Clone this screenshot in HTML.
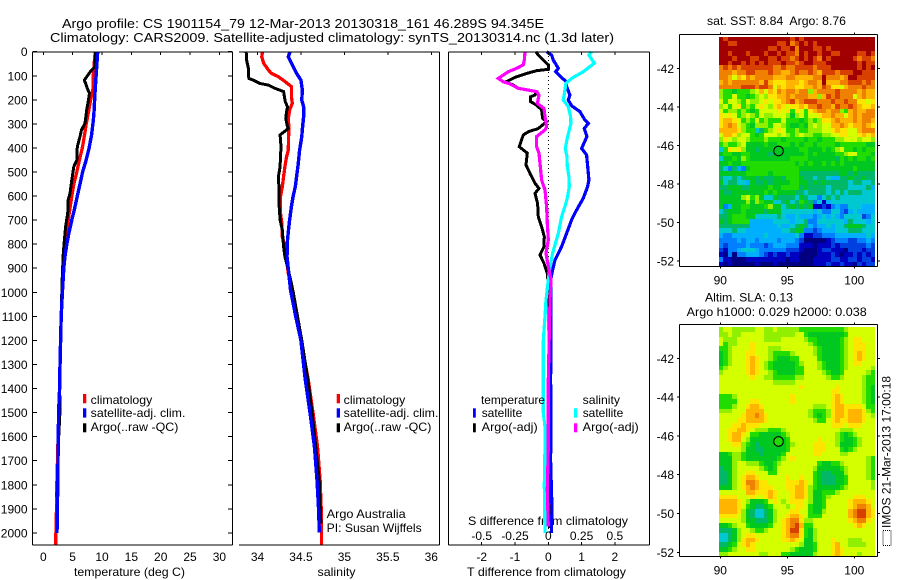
<!DOCTYPE html>
<html lang="en">
<head>
<meta charset="utf-8">
<title>Argo profile 1901154_79</title>
<style>
html,body{margin:0;padding:0;background:#fff;}
svg{display:block;font-family:"Liberation Sans",sans-serif;font-size:12px;fill:#000;}
text{fill:#000;stroke:none;white-space:pre;}
</style>
</head>
<body>
<svg id="chart" xmlns="http://www.w3.org/2000/svg" width="900" height="580" viewBox="0 0 900 580">
<rect x="0" y="0" width="900" height="580" fill="#fff"/>
<text x="62" y="28" textLength="482" lengthAdjust="spacingAndGlyphs" font-size="13">Argo profile: CS 1901154_79 12-Mar-2013 20130318_161 46.289S 94.345E</text>
<text x="50" y="42" textLength="564" lengthAdjust="spacingAndGlyphs" font-size="13">Climatology: CARS2009. Satellite-adjusted climatology: synTS_20130314.nc (1.3d later)</text>

<text x="74" y="576" textLength="111" lengthAdjust="spacingAndGlyphs">temperature (deg C)</text>
<text x="317.5" y="576" textLength="38" lengthAdjust="spacingAndGlyphs">salinity</text>
<text x="467" y="576" textLength="159" lengthAdjust="spacingAndGlyphs">T difference from climatology</text>
<text x="468" y="525" textLength="160" lengthAdjust="spacingAndGlyphs">S difference from climatology</text>

<g id="maps"></g>
<g id="plots"></g>

<g>
<rect x="83" y="394" width="3.3" height="9.3" fill="#f00"/>
<rect x="83" y="408.3" width="3.3" height="9.3" fill="#00f"/>
<rect x="83" y="423.3" width="3.3" height="9" fill="#000"/>
<text x="90.7" y="404" textLength="61.6" lengthAdjust="spacingAndGlyphs">climatology</text>
<text x="90.7" y="417" textLength="94.7" lengthAdjust="spacingAndGlyphs">satellite-adj. clim.</text>
<text x="90.7" y="431" textLength="87.7" lengthAdjust="spacingAndGlyphs">Argo(..raw -QC)</text>
</g>
<g>
<rect x="336.7" y="394" width="3.3" height="9.3" fill="#f00"/>
<rect x="336.7" y="408.3" width="3.3" height="9.3" fill="#00f"/>
<rect x="336.7" y="423.3" width="3.3" height="9" fill="#000"/>
<text x="343.7" y="404" textLength="61.6" lengthAdjust="spacingAndGlyphs">climatology</text>
<text x="343.7" y="417" textLength="94.7" lengthAdjust="spacingAndGlyphs">satellite-adj. clim.</text>
<text x="343.7" y="431" textLength="87.7" lengthAdjust="spacingAndGlyphs">Argo(..raw -QC)</text>
<text x="326.7" y="518" textLength="79" lengthAdjust="spacingAndGlyphs">Argo Australia</text>
<text x="326.7" y="532" textLength="95" lengthAdjust="spacingAndGlyphs">PI: Susan Wijffels</text>
</g>
<g>
<text x="481" y="404" textLength="64" lengthAdjust="spacingAndGlyphs">temperature</text>
<text x="582.7" y="404" textLength="37.3" lengthAdjust="spacingAndGlyphs">salinity</text>
<rect x="473" y="408.3" width="2.8" height="9.3" fill="#00f"/>
<rect x="473" y="423.3" width="2.8" height="9" fill="#000"/>
<rect x="574" y="408.3" width="3.3" height="9.3" fill="#0ff"/>
<rect x="574" y="423.3" width="3.3" height="9" fill="#f0f"/>
<text x="481.7" y="417" textLength="40.6" lengthAdjust="spacingAndGlyphs">satellite</text>
<text x="481.7" y="431" textLength="56" lengthAdjust="spacingAndGlyphs">Argo(-adj)</text>
<text x="582.7" y="417" textLength="40.6" lengthAdjust="spacingAndGlyphs">satellite</text>
<text x="582.7" y="431" textLength="56" lengthAdjust="spacingAndGlyphs">Argo(-adj)</text>
</g>

<text x="707" y="25" textLength="139" lengthAdjust="spacingAndGlyphs">sat. SST: 8.84  Argo: 8.76</text>
<text x="705" y="301.5" textLength="88" lengthAdjust="spacingAndGlyphs">Altim. SLA: 0.13</text>
<text x="686.7" y="316" textLength="180" lengthAdjust="spacingAndGlyphs">Argo h1000: 0.029 h2000: 0.038</text>

<rect x="883" y="530.5" width="8" height="15" fill="none" stroke="#000" stroke-width="1" stroke-dasharray="1 1" shape-rendering="crispEdges"/>
<text transform="translate(890.5,528) rotate(-90)" textLength="152" lengthAdjust="spacingAndGlyphs">IMOS 21-Mar-2013 17:00:18</text>
</svg>

<script>
// ---------- profile data (depth in m, temperature in deg C, salinity in psu) ----------
const tempClimDepth=[0,100,150,200,250,300,350,400,450,500,550,600,650,700,750,800,850,900,1000,1100,1200,1300,1400,1500,1600,1700,1800,1900,2000,2050];
const tempClim=[8.85,8.5,8.5,8.05,7.7,7.3,7.0,6.65,6.15,5.7,5.2,4.85,4.55,4.25,4.0,3.7,3.45,3.4,3.2,3.05,2.95,2.87,2.78,2.62,2.52,2.42,2.3,2.25,2.15,2.1];
const tempSatDepth=[0,100,170,250,290,350,400,450,500,550,600,650,700,750,800,850,900,1000,1100,1200,1300,1400,1500,1700,1800,1900,2000];
const tempSat=[9.26,9.0,8.8,8.64,8.5,8.2,7.8,7.3,6.7,6.25,5.8,5.35,4.85,4.4,4.0,3.7,3.5,3.25,3.05,2.95,2.85,2.78,2.6,2.5,2.45,2.4,2.33];
const tempArgoDepth=[0,62,83,118,152,173,200,242,298,325,353,395,450,478,533,589,616,672,727,782,838,921,1000,1100,1200,1300,1400,1500,1600,1700,1800,1850];
const tempArgo=[8.9,8.8,8.0,7.0,7.5,7.85,7.7,7.4,7.1,6.5,6.25,5.8,5.7,5.2,4.85,4.55,4.25,4.15,3.8,3.6,3.4,3.25,3.15,3.05,2.95,2.87,2.8,2.82,2.62,2.5,2.42,2.35];

const salClimDepth=[0,21,48,76,90,104,125,145,187,215,242,277,312,409,436,478,519,561,602,672,713,769,810,852,921,1000,1200,1364,1503,1641,1780,1918,2050];
const salClim=[34.056,34.05,34.07,34.125,34.16,34.24,34.32,34.39,34.39,34.4,34.37,34.355,34.36,34.355,34.335,34.315,34.3,34.285,34.265,34.265,34.28,34.285,34.315,34.33,34.355,34.41,34.5,34.585,34.64,34.69,34.72,34.735,34.735];
const salSatDepth=[0,21,48,90,118,159,201,229,270,325,353,409,464,506,561,602,644,713,783,852,921,990,1100,1200,1364,1503,1641,1780,1918,1998];
const salSat=[34.374,34.355,34.39,34.45,34.5,34.515,34.51,34.53,34.53,34.515,34.51,34.485,34.47,34.455,34.435,34.41,34.39,34.365,34.345,34.34,34.36,34.38,34.44,34.5,34.55,34.605,34.655,34.685,34.705,34.71];
const salArgoDepth=[0,35,69,111,118,132,139,152,166,187,208,229,249,277,312,319,346,395,436,478,519,554,602,644,699,741,810,852,907,963,1018,1200,1364,1503,1641,1780,1918,1960];
const salArgo=[33.87,33.875,33.895,33.9,33.95,34.03,34.125,34.2,34.3,34.31,34.32,34.345,34.335,34.325,34.345,34.355,34.26,34.27,34.265,34.26,34.24,34.245,34.245,34.25,34.26,34.285,34.3,34.315,34.355,34.39,34.42,34.51,34.58,34.63,34.67,34.71,34.725,34.73];

const diffTSatDepth=[0,14,35,69,83,108,125,145,180,201,225,249,284,298,319,353,402,429,505,533,561,609,658,699,755,810,866,907,949,1032,1200,1364,1500,1700,1900,2000];
const diffTSat=[-0.05,0.1,0.15,0.3,0.22,0.4,0.55,0.55,0.65,0.6,0.7,0.95,1.1,1.2,1.08,1.16,1.0,1.15,1.2,1.22,1.18,1.05,0.85,0.7,0.55,0.4,0.2,0.13,0.07,0.08,0.08,0.07,0.08,0.07,0.11,0.09];
const diffTArgoDepth=[0,14,35,55,73,79,90,107,125,139,152,166,180,187,208,222,242,277,291,319,333,346,395,422,471,506,547,568,589,630,686,727,769,810,845,879,921,1000,1400,1980];
const diffTArgo=[-0.37,-0.3,-0.15,0,0,-0.35,-0.65,-1.0,-1.27,-1.05,-0.9,-0.35,-0.4,-0.53,-0.53,-0.35,-0.2,-0.17,-0.05,-0.3,-0.6,-0.75,-0.87,-0.63,-0.67,-0.55,-0.4,-0.28,-0.4,-0.32,-0.3,-0.2,-0.12,-0.13,-0.25,-0.13,-0.03,0.02,0.03,0.03];
const diffSSatDepth=[0,14,48,62,83,111,132,159,201,229,270,298,353,402,436,478,519,561,602,630,686,755,838,893,949,1032,1100,1200,1364,1500,1560,1640,1800,2000];
const diffSSat=[0.325,0.305,0.345,0.3125,0.2625,0.175,0.1325,0.125,0.1125,0.15,0.1675,0.17,0.145,0.1275,0.14,0.1425,0.155,0.1575,0.145,0.1325,0.1,0.075,0.0325,0.0125,0,-0.0175,-0.025,-0.0375,-0.0375,-0.0375,-0.025,-0.025,-0.03,-0.025];
const diffSArgoDepth=[0,35,55,69,83,97,111,125,134,152,166,180,215,236,270,312,325,353,395,422,464,533,575,644,713,783,838,893,949,1032,1364,1640,1820,1973];
const diffSArgo=[-0.175,-0.18,-0.1875,-0.2375,-0.3,-0.3375,-0.375,-0.3375,-0.2875,-0.225,-0.0875,-0.07,-0.0825,-0.0325,-0.025,-0.0125,-0.025,-0.0875,-0.0875,-0.07,-0.0625,-0.05,-0.025,-0.0125,-0.0075,0,-0.0175,0,0.02,0.0125,0,0,-0.0075,0];

// ---------- tick labels ----------
const depthTicks=[0,100,200,300,400,500,600,700,800,900,1000,1100,1200,1300,1400,1500,1600,1700,1800,1900,2000];
const tempTicks=[0,5,10,15,20,25,30];
const salTicks=["34","34.5","35","35.5","36"];
const diffTTicks=[-2,-1,0,1,2];
const diffSTicks=["-0.5","-0.25","0","0.25","0.5"];
const latTicks=[-42,-44,-46,-48,-50,-52];
const lonTicks=[90,95,100];

// ---------- map data: colour level per cell, north to south, west to east ----------
const sstGrid=[
[15,14,15,15,15,15,15,15,15,15,15,15,15,15,15,15,14,15,14,15,15,15,15,15,15,15,15,15,15,15,15,15,15,15,15],
[15,15,14,14,15,15,15,15,15,15,15,15,15,14,14,15,13,14,15,14,15,14,15,15,15,15,15,15,15,15,15,15,15,15,15],
[15,15,15,15,15,15,15,15,15,15,15,14,14,15,14,14,15,13,15,15,15,14,14,15,14,15,15,15,15,15,15,15,15,15,15],
[15,15,14,15,15,15,14,15,15,15,14,15,15,14,15,14,14,13,15,14,15,15,14,15,15,14,14,15,15,15,15,14,14,15,14],
[15,15,15,14,15,15,15,14,14,15,15,14,14,15,14,14,13,14,15,14,15,14,13,15,14,15,15,15,15,15,14,13,14,14,13],
[15,15,14,15,15,14,15,14,15,14,15,14,14,14,15,14,14,13,14,15,15,14,14,14,15,15,15,15,15,15,15,14,15,14,14],
[13,14,13,14,13,14,14,14,14,14,14,14,13,13,14,13,13,14,14,14,14,13,14,14,14,15,15,15,15,15,15,14,15,14,15],
[13,13,13,12,13,13,14,14,13,13,13,14,13,13,12,12,13,14,13,13,14,13,12,14,14,14,13,14,14,14,15,15,14,14,14],
[13,13,12,10,12,11,13,12,13,13,13,13,12,12,12,13,13,12,12,12,12,13,13,15,13,13,13,12,13,15,15,14,14,14,14],
[12,13,12,13,13,13,13,13,13,12,14,12,11,11,11,12,12,12,11,12,13,13,12,15,12,12,12,13,13,14,14,14,13,14,13],
[13,13,13,13,13,14,14,14,13,14,14,13,10,12,11,12,12,11,11,12,12,13,12,14,13,11,11,10,12,13,13,13,14,13,13],
[9,8,8,7,8,8,8,9,10,12,10,12,11,13,12,13,13,12,13,13,9,12,13,13,13,13,14,13,13,13,13,12,13,12,12],
[9,8,8,10,8,8,7,8,9,10,9,11,11,12,12,13,12,13,13,13,12,12,9,12,14,13,14,13,13,13,10,12,13,12,12],
[10,8,10,10,9,8,10,9,9,10,11,10,11,11,12,13,14,12,13,14,14,14,13,13,13,14,13,13,14,13,13,11,11,10,11],
[9,10,8,10,11,8,9,8,10,11,10,9,11,12,11,10,11,11,12,11,13,13,14,13,13,12,14,13,13,14,13,12,11,11,12],
[10,8,9,9,8,9,8,7,8,10,10,10,10,11,10,11,8,11,10,8,11,12,13,13,12,13,13,9,8,12,13,12,12,13,13],
[11,10,11,10,8,9,10,9,8,10,9,9,10,10,10,9,7,9,10,8,10,10,11,12,12,13,12,12,10,12,13,12,13,13,13],
[11,12,12,11,10,8,9,8,10,8,9,8,8,8,10,8,8,8,7,8,9,8,9,11,11,12,13,12,12,12,13,12,13,13,12],
[11,12,13,12,10,9,8,7,9,9,9,8,10,10,9,8,7,7,8,7,9,10,9,10,10,12,12,13,12,11,12,12,13,12,11],
[12,12,12,12,11,9,8,8,5,6,8,9,10,11,10,8,8,9,8,8,9,9,9,10,10,11,12,11,11,10,10,12,13,13,13],
[10,12,12,11,9,10,10,8,7,8,10,10,10,9,10,9,8,9,10,9,9,8,8,9,9,10,10,11,11,10,10,11,12,11,12],
[9,11,10,9,10,10,9,8,8,8,9,8,8,8,7,8,8,8,8,7,8,8,7,8,8,8,9,9,10,10,10,9,10,10,9],
[8,9,8,8,9,10,7,7,7,7,8,7,7,8,8,8,7,8,7,8,8,7,8,8,8,8,7,8,8,8,8,8,8,7,7],
[5,8,11,10,11,9,7,7,6,7,7,7,8,7,7,7,7,7,8,8,7,7,7,8,7,8,9,10,8,8,7,8,7,8,8],
[7,8,8,7,7,8,8,7,7,7,7,6,7,7,7,7,7,7,7,8,7,8,7,7,7,7,8,8,9,10,10,8,8,8,7],
[5,7,7,8,7,9,8,7,7,7,7,7,7,7,7,7,8,8,8,8,7,7,7,7,7,7,6,8,7,8,7,8,8,7,8],
[7,7,8,7,7,8,8,8,8,8,8,8,8,8,8,8,8,7,8,7,8,7,7,8,7,8,7,8,7,7,7,7,7,7,7],
[6,5,3,6,4,3,7,8,8,8,8,8,8,8,8,8,8,8,7,7,7,7,7,7,7,7,7,7,7,7,8,7,7,7,7],
[7,7,7,7,7,7,8,8,8,8,8,7,8,8,8,8,8,8,6,6,6,6,6,6,6,6,6,7,7,6,7,6,6,6,6],
[6,5,5,6,5,6,7,7,6,7,6,6,7,7,6,8,8,8,7,6,6,5,6,6,5,4,4,6,6,7,6,6,7,6,6],
[7,5,6,6,5,5,4,7,6,6,7,6,7,7,7,7,8,8,7,7,6,7,6,7,6,6,6,6,6,5,6,6,5,5,6],
[6,6,7,7,7,6,6,7,7,7,7,8,7,7,8,8,8,8,6,7,6,6,6,6,5,6,6,6,6,5,5,5,5,6,4],
[7,6,6,7,7,7,7,7,7,7,8,7,8,7,7,7,7,6,6,5,6,6,6,6,5,6,5,6,5,6,6,6,5,5,5],
[7,7,7,7,7,9,10,8,9,7,5,5,7,6,6,6,6,5,7,6,5,5,3,5,6,5,6,5,5,5,5,5,5,5,5],
[7,7,7,7,7,7,9,7,9,8,7,7,5,5,6,7,5,6,8,7,6,3,5,1,4,5,5,5,5,5,5,5,5,5,5],
[7,3,4,7,7,8,8,7,7,7,8,9,7,7,5,6,7,6,7,6,7,1,1,2,1,3,4,3,3,5,5,5,4,4,4],
[5,6,7,7,7,8,7,7,7,7,6,7,7,7,5,5,5,5,5,5,5,4,5,3,3,5,5,3,2,4,5,4,4,4,4],
[6,6,7,8,8,8,7,7,5,5,5,5,5,6,5,4,4,5,4,4,4,3,4,5,4,5,4,3,5,5,5,5,2,3,5],
[7,6,7,8,8,8,8,4,4,4,4,4,5,5,5,5,4,5,5,6,3,3,5,5,5,5,5,5,4,6,5,5,5,4,5],
[6,6,6,6,6,6,6,4,4,4,4,4,4,5,4,4,5,6,7,6,4,3,4,4,5,4,5,5,6,7,7,7,6,5,5],
[5,5,5,6,5,5,4,4,4,4,4,4,4,4,5,5,6,7,7,3,3,2,3,4,4,4,5,5,5,6,6,6,5,5,5],
[4,3,3,4,4,4,4,4,4,4,5,4,4,4,4,4,4,5,3,1,1,2,2,3,3,3,4,4,4,4,4,4,4,5,4],
[3,3,3,3,4,3,4,4,3,4,4,4,4,3,4,4,4,3,2,0,0,0,0,0,1,2,3,3,3,2,2,3,3,4,3],
[3,2,3,3,3,3,4,3,3,3,2,3,4,4,4,3,3,3,1,1,1,0,1,1,1,2,1,2,2,2,2,2,2,3,2],
[2,1,3,3,4,5,5,5,4,3,3,3,3,3,3,2,2,2,1,0,0,0,1,2,2,1,1,1,0,2,2,2,1,2,2],
[1,0,3,0,3,3,4,4,4,3,2,1,2,1,1,2,1,1,0,0,0,0,1,1,1,2,1,0,1,1,2,1,2,1,2],
[3,1,1,0,0,0,1,1,1,1,1,1,1,1,1,0,1,1,0,0,0,1,1,1,1,2,2,1,1,2,2,1,2,2,1],
[1,0,1,0,0,0,0,0,1,0,0,0,1,0,0,0,0,0,0,0,0,1,1,1,2,1,1,2,1,1,0,2,1,2,2]
];
const slaGrid=[
[9,10,10,9,9,9,9,9,10,10,9,9,10,9,9,9,9,9,8,8,8,8,8,8,8,8,8,8,9,10,10,10,10,10,10],
[9,9,10,9,9,10,10,10,10,10,9,9,9,9,9,9,9,10,10,8,7,7,7,7,7,7,7,7,8,10,10,10,10,10,10],
[10,9,9,9,10,10,10,10,10,10,9,9,9,9,10,10,10,10,10,9,8,8,7,7,7,7,7,8,9,10,11,11,10,10,10],
[10,8,9,9,10,10,10,11,10,10,10,10,10,10,10,10,10,10,10,10,9,8,7,7,7,7,7,8,9,10,11,11,11,10,10],
[8,8,9,10,10,10,10,11,10,10,10,9,9,9,10,10,10,10,10,10,10,9,8,7,7,7,7,8,9,10,11,11,11,10,10],
[7,8,9,10,10,10,11,11,10,10,10,9,8,8,8,8,9,10,10,10,10,9,8,7,7,7,7,8,9,10,11,12,11,10,10],
[7,8,9,10,10,10,11,12,11,10,10,9,8,7,7,7,8,8,10,10,10,10,8,7,7,7,7,8,9,10,11,12,11,10,10],
[7,8,9,10,10,10,11,12,11,10,9,8,7,7,7,7,7,8,9,10,10,10,9,8,7,7,7,8,9,10,11,11,10,10,10],
[8,9,10,10,10,10,11,12,11,10,9,8,7,7,7,7,7,8,8,10,10,10,9,8,7,7,7,8,9,10,10,10,10,10,9],
[9,10,10,10,10,10,11,12,11,10,10,9,8,7,7,7,7,8,8,10,10,10,10,9,8,7,7,8,10,10,10,10,10,9,8],
[10,10,10,10,10,10,10,11,10,10,9,9,8,8,8,8,8,9,9,10,10,10,10,10,9,8,8,9,10,10,10,10,9,8,8],
[10,10,10,10,10,10,10,10,10,10,10,10,9,9,9,9,9,10,10,10,10,10,10,10,10,10,10,10,10,10,10,10,9,8,8],
[10,10,10,10,10,10,10,10,10,10,10,10,10,10,10,10,10,10,11,10,10,10,10,10,10,10,11,10,10,10,10,10,9,8,7],
[10,10,10,10,10,10,10,10,10,10,10,10,10,10,10,10,10,10,10,10,10,10,10,10,10,11,11,10,10,10,10,10,9,8,7],
[8,8,8,9,10,10,10,10,10,10,10,10,10,10,10,10,11,10,10,10,10,10,10,10,10,11,12,11,10,10,10,10,9,8,7],
[8,8,8,8,10,10,10,11,11,10,10,10,10,10,10,10,11,10,10,10,10,10,10,10,10,11,12,11,10,10,10,10,9,8,7],
[8,8,8,9,10,10,11,12,12,11,10,10,10,10,10,10,10,10,10,10,10,9,9,9,10,11,12,12,11,11,11,11,10,8,8],
[9,9,9,10,10,10,12,12,12,12,10,10,10,10,10,10,10,10,10,10,9,8,8,8,9,11,12,12,11,12,12,12,11,9,8],
[10,10,10,10,10,11,12,12,13,12,11,10,10,10,10,10,10,10,10,10,9,8,7,8,9,11,12,12,11,12,12,12,11,10,9],
[10,10,10,10,11,11,12,12,12,12,11,10,10,10,10,10,10,10,10,10,10,9,8,8,10,11,12,11,11,12,12,12,11,10,10],
[10,10,10,11,11,12,11,11,11,10,10,10,10,10,10,10,10,10,10,10,10,10,10,10,10,11,11,11,10,11,11,11,10,10,10],
[10,10,11,11,12,12,11,10,9,9,9,8,8,8,9,10,10,10,10,10,10,10,10,10,10,10,10,9,9,9,10,10,10,10,10],
[10,10,11,12,12,11,10,8,8,7,7,7,7,7,8,9,10,10,10,10,10,10,10,10,10,10,9,8,7,8,9,10,10,10,10],
[10,10,11,12,12,10,9,7,7,7,7,7,7,7,7,8,10,10,10,10,10,10,11,10,10,10,9,8,7,7,8,9,10,10,10],
[10,10,10,11,11,9,8,7,6,7,7,7,7,7,7,8,9,10,10,10,10,11,11,11,10,10,9,7,7,7,8,9,10,10,10],
[10,10,10,10,10,9,7,7,6,6,7,7,7,7,7,8,10,10,10,10,10,11,11,11,10,10,10,8,7,8,9,10,10,10,10],
[7,7,8,9,9,8,7,7,7,6,7,7,7,7,8,10,10,10,10,10,10,11,11,10,10,10,10,9,9,10,10,10,10,10,10],
[7,7,7,9,9,8,7,7,7,7,7,7,7,8,9,10,11,10,10,10,10,10,10,10,10,10,10,10,10,10,10,10,10,9,8],
[7,7,7,9,10,10,9,9,9,8,7,7,8,9,10,10,10,10,10,10,10,10,8,7,7,8,8,9,10,10,10,10,10,9,8],
[6,7,7,9,10,10,10,10,10,9,8,7,8,10,10,10,10,10,10,10,10,9,7,7,7,7,7,8,9,10,10,10,10,9,8],
[6,6,7,9,10,10,11,11,10,10,10,8,8,10,10,10,10,10,10,10,10,8,7,6,6,7,7,7,9,10,10,10,10,9,8],
[6,6,7,9,10,11,12,12,11,10,10,10,10,10,10,11,10,10,11,10,10,8,7,6,6,6,7,7,8,10,10,10,10,9,8],
[6,6,7,9,10,11,13,13,12,11,11,10,10,10,10,11,11,11,12,11,10,8,7,6,6,6,7,7,8,10,10,10,10,10,9],
[7,7,7,9,10,11,12,13,12,11,11,11,10,10,10,11,11,12,12,11,9,8,7,7,7,7,7,8,9,10,10,10,10,10,9],
[10,10,10,10,10,10,12,12,11,11,11,12,11,10,10,10,11,12,12,11,9,7,7,8,8,8,9,10,10,10,10,10,10,10,10],
[11,11,11,11,10,10,10,11,10,10,11,12,11,10,10,10,11,12,12,11,9,7,7,8,9,10,10,10,10,10,11,11,11,10,10],
[12,12,12,12,11,10,9,7,7,7,8,10,11,10,9,10,11,11,11,10,9,7,7,8,10,10,10,10,10,11,12,12,12,11,10],
[12,12,12,12,11,10,8,7,6,6,7,8,10,10,10,9,10,11,11,10,8,7,7,8,10,10,10,10,10,11,12,13,13,12,10],
[12,12,12,12,11,9,7,6,5,5,6,7,9,10,10,10,11,11,10,10,8,7,7,9,10,10,10,10,10,12,13,14,14,12,11],
[11,11,11,11,10,9,7,6,5,5,6,7,9,10,10,11,12,12,11,10,8,8,8,10,10,10,10,10,10,12,13,14,14,12,11],
[10,10,10,10,10,9,7,7,6,6,6,7,9,10,11,12,13,13,11,9,9,10,10,10,10,10,10,10,10,11,12,13,13,11,10],
[7,7,8,9,10,10,8,7,7,7,7,8,10,10,11,12,13,14,12,8,8,10,10,10,10,10,10,10,10,10,11,12,11,10,10],
[6,6,6,7,9,10,10,9,8,8,9,10,10,10,11,12,14,14,11,8,7,9,10,10,10,10,10,10,10,10,10,10,10,10,10],
[5,5,6,7,9,10,11,11,10,10,10,10,10,10,11,12,13,13,11,8,7,9,10,10,10,10,10,10,10,10,10,10,10,10,10],
[5,5,6,7,9,11,12,12,11,10,10,10,10,10,11,11,12,11,10,7,7,9,10,10,10,11,10,10,10,9,9,9,10,10,10],
[6,6,7,8,10,11,12,11,10,10,10,10,10,10,10,10,10,10,9,7,7,8,10,10,10,11,12,10,10,9,9,9,9,10,10],
[7,7,8,9,10,10,11,11,10,10,10,10,10,10,10,10,9,8,7,7,7,8,10,10,10,11,12,11,10,10,10,10,10,10,10],
[9,9,10,10,10,10,10,10,10,9,9,10,10,10,8,8,7,7,7,7,7,9,10,10,10,11,12,11,10,10,10,9,10,10,10]
];
const floatLon=94.345;
const floatLat=-46.289;

// ---------- axis functions ----------
const NS='http://www.w3.org/2000/svg';
const depthY=d=>51.7+d*0.2406;
const tempX=t=>43.3+t*5.87;
const salX=s=>257.5+(s-34)*86.9;
const diffTX=v=>548.3+v*33.3;
const diffSX=v=>548.3+v*133.2;
const lonX=l=>720.3+(l-90)*13.4;
const lat1Y=l=>68.3+(-42-l)*19.27;
const lat2Y=l=>358.3+(-42-l)*19.4;
const levelColours=['#000080','#0000c0','#0040e0','#0080ff','#00b0ff','#00c8d0','#00b868','#00c820','#20dc00','#90f000','#d4ff00','#ffe400','#ffb400','#f08000','#d84000','#a00000'];

const plots=document.getElementById('plots');
const maps=document.getElementById('maps');

function add(parent,tag,attrs,txt){
  const el=document.createElementNS(NS,tag);
  for(const k in attrs){el.setAttribute(k,attrs[k]);}
  if(txt!==undefined){el.textContent=txt;}
  parent.appendChild(el);
  return el;
}
function seg(parent,name,x1,y1,x2,y2){
  const el=add(parent,'line',{x1:x1,y1:y1,x2:x2,y2:y2,stroke:'#000','stroke-width':1,'shape-rendering':'crispEdges'});
  
  
  return el;
}
function label(parent,name,x,y,anchor,txt){
  const el=add(parent,'text',{x:x,y:y,'text-anchor':anchor},txt);
  
  
  return el;
}
function series(parent,name,xs,ds,xf,colour,width){
  const pts=xs.map((v,i)=>xf(v).toFixed(1)+','+depthY(ds[i]).toFixed(1)).join(' ');
  const el=add(parent,'polyline',{points:pts,fill:'none',stroke:colour,'stroke-width':width,'stroke-linejoin':'miter','shape-rendering':'crispEdges'});
  
  
  return el;
}

// ---------- temperature panel ----------
const p1=add(plots,'g',{});


series(p1,'temperature-climatology-line',tempClim,tempClimDepth,tempX,'#f00',3.3);
series(p1,'temperature-argo-line',tempArgo,tempArgoDepth,tempX,'#000',3);
series(p1,'temperature-satellite-line',tempSat,tempSatDepth,tempX,'#00f',3.4);
seg(p1,'temperature-axis-top',32.5,52,232.5,52);
seg(p1,'temperature-axis-bottom',32.5,545,232.5,545);
seg(p1,'temperature-axis-left',32.5,52,32.5,545);
seg(p1,'temperature-axis-right',232.5,52,232.5,545);
depthTicks.forEach(d=>{
  seg(p1,'depth-tick-left',32.5,depthY(d),37,depthY(d));
  seg(p1,'depth-tick-right',228,depthY(d),232.5,depthY(d));
  label(p1,'depth-tick-label',27.5,depthY(d)+4.5,'end',String(d));
});
tempTicks.forEach(t=>{
  seg(p1,'temperature-tick-top',tempX(t),52,tempX(t),55);
  label(p1,'temperature-tick-label',tempX(t),561,'middle',String(t));
});

// ---------- salinity panel ----------
const p2=add(plots,'g',{});


series(p2,'salinity-climatology-line',salClim,salClimDepth,salX,'#f00',3.3);
series(p2,'salinity-argo-line',salArgo,salArgoDepth,salX,'#000',3);
series(p2,'salinity-satellite-line',salSat,salSatDepth,salX,'#00f',3.4);
seg(p2,'salinity-axis-top',239,52,439.5,52);
seg(p2,'salinity-axis-bottom',239,545,439.5,545);
seg(p2,'salinity-axis-right',439.5,52,439.5,545);
salTicks.forEach(s=>{
  seg(p2,'salinity-tick-top',salX(Number(s)),52,salX(Number(s)),55);
  label(p2,'salinity-tick-label',salX(Number(s)),561,'middle',s);
});

// ---------- difference panel ----------
const p3=add(plots,'g',{});


const zeroLine=add(p3,'line',{x1:diffTX(0),y1:52,x2:diffTX(0),y2:530,stroke:'#000','stroke-width':1,'stroke-dasharray':'1 3','shape-rendering':'crispEdges'});


series(p3,'t-difference-argo-line',diffTArgo,diffTArgoDepth,diffTX,'#000',3);
series(p3,'t-difference-satellite-line',diffTSat,diffTSatDepth,diffTX,'#00f',3.2);
series(p3,'s-difference-satellite-line',diffSSat,diffSSatDepth,diffSX,'#0ff',3.2);
series(p3,'s-difference-argo-line',diffSArgo,diffSArgoDepth,diffSX,'#f0f',3.2);
seg(p3,'difference-axis-top',448.5,52,649.5,52);
seg(p3,'difference-axis-bottom',448.5,545,649.5,545);
seg(p3,'difference-axis-left',448.5,52,448.5,545);
seg(p3,'difference-axis-right',649.5,52,649.5,545);
diffTTicks.forEach(v=>{
  seg(p3,'t-difference-tick-top',diffTX(v),52,diffTX(v),55);
  seg(p3,'t-difference-tick-bottom',diffTX(v),542,diffTX(v),545);
  label(p3,'t-difference-tick-label',diffTX(v),561,'middle',String(v));
});
diffSTicks.forEach(v=>{
  label(p3,'s-difference-tick-label',diffSX(Number(v)),540,'middle',v);
});

// ---------- maps ----------
function drawMap(name,grid,latY,top,bottom,boxTop,circleColour){
  const g=add(maps,'g',{});
  
  
  const lon0=89.9, dLon=1/3;
  const rowH=(bottom-top)/grid.length;
  grid.forEach((row,r)=>{
    row.forEach((v,c)=>{
      const x0=Math.round(lonX(lon0+c*dLon)), x1=Math.round(lonX(lon0+(c+1)*dLon));
      const y0=Math.round(top+r*rowH), y1=Math.round(top+(r+1)*rowH);
      const cell=add(g,'rect',{x:x0,y:y0,width:x1-x0,height:y1-y0,fill:levelColours[v],'shape-rendering':'crispEdges'});
      
      
    });
  });
  seg(g,'map-axis-top',679.5,boxTop,877.5,boxTop);
  seg(g,'map-axis-bottom',679.5,bottom,877.5,bottom);
  seg(g,'map-axis-left',679.5,boxTop,679.5,bottom);
  seg(g,'map-axis-right',877.5,boxTop,877.5,bottom);
  lonTicks.forEach(l=>{
    seg(g,'longitude-tick-top',lonX(l),boxTop-2,lonX(l),boxTop);
    seg(g,'longitude-tick-bottom',lonX(l),bottom,lonX(l),bottom+2);
    label(g,'longitude-tick-label',lonX(l),bottom+18,'middle',String(l));
  });
  latTicks.forEach(l=>{
    seg(g,'latitude-tick-left',677,latY(l),679.5,latY(l));
    seg(g,'latitude-tick-right',877.5,latY(l),880,latY(l));
    label(g,'latitude-tick-label',674,latY(l)+4.5,'end',String(l));
  });
  const dot=add(g,'circle',{cx:lonX(floatLon),cy:latY(floatLat),r:4.8,fill:circleColour,stroke:'#000','stroke-width':1.1});
  
  
}
drawMap('sst-map',sstGrid,lat1Y,36.7,266.7,34.5,'#00c820');
drawMap('sla-map',slaGrid,lat2Y,327.3,556.7,324.5,'#20dc00');
</script>
</body>
</html>
